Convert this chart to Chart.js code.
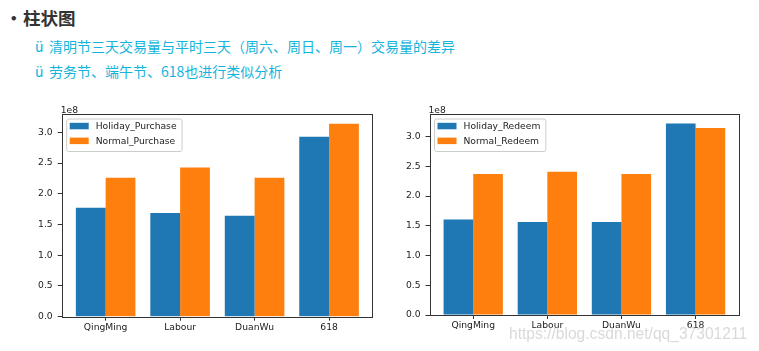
<!DOCTYPE html>
<html><head><meta charset="utf-8">
<script src="https://cdn.jsdelivr.net/npm/chart.js@4/dist/chart.umd.min.js"></script>
<style>
html,body{margin:0;padding:0;background:#fff;}
body{width:759px;height:351px;position:relative;overflow:hidden;font-family:"Noto Sans CJK SC",sans-serif;}
.t{position:absolute;white-space:nowrap;}
.title{font-size:17.5px;line-height:22px;font-weight:bold;color:#333;top:7px;}
.sub{font-size:14px;line-height:18px;color:#14b4dc;}
canvas{position:absolute;}
#wm{position:absolute;left:509px;top:324px;font-family:"Liberation Sans",Arial,sans-serif;font-size:15.6px;line-height:20px;color:rgba(185,185,185,0.55);white-space:nowrap;z-index:10;}
</style>
</head><body>
<span class="t title" style="left:5px;">•</span>
<span class="t title" style="left:23px;">柱状图</span>
<span class="t sub" style="left:35px;top:37px;">ü</span>
<span class="t sub" style="left:49px;top:37px;">清明节三天交易量与平时三天（周六、周日、周一）交易量的差异</span>
<span class="t sub" style="left:35px;top:62px;">ü</span>
<span class="t sub" style="left:49px;top:62px;">劳务节、端午节、618也进行类似分析</span>
<canvas id="c1" width="360" height="245" style="left:20px;top:100px;width:360px;height:245px;"></canvas>
<canvas id="c2" width="360" height="245" style="left:388px;top:100px;width:360px;height:245px;"></canvas>
<div id="wm">https://blog.csdn.net/qq_37301211</div>
<script>
// ---- data ----
const categories = ['QingMing', 'Labour', 'DuanWu', '618'];
const holidayPurchase = [177200000, 168600000, 164200000, 293000000];
const normalPurchase  = [226100000, 243000000, 226100000, 314200000];
const holidayRedeem   = [160700000, 156200000, 156200000, 321900000];
const normalRedeem    = [237100000, 241000000, 237100000, 314600000];
const purchaseLabels = ['Holiday_Purchase', 'Normal_Purchase'];
const redeemLabels   = ['Holiday_Redeem', 'Normal_Redeem'];
const yTicks = [0, 50000000, 100000000, 150000000, 200000000, 250000000, 300000000];

const BLUE = '#1f77b4', ORANGE = '#ff7f0e';
const FONT = '"DejaVu Sans", sans-serif';
const FS = 9.2;

const framePlugin = {
  id: 'mplFrame',
  afterDraw(chart) {
    const ctx = chart.ctx, a = chart.chartArea;
    ctx.save();
    ctx.strokeStyle = '#333';
    ctx.lineWidth = 1;
    ctx.strokeRect(Math.round(a.left) + 0.5, Math.round(a.top) + 0.5,
                   Math.round(a.right - a.left) - 1, Math.round(a.bottom - a.top));
    ctx.fillStyle = '#222';
    ctx.font = FS + 'px ' + FONT;
    ctx.textBaseline = 'alphabetic';
    ctx.textAlign = 'left';
    ctx.fillText('1e8', a.left - 1, a.top - 1.5);
    const ds = chart.data.datasets;
    let tw = 0;
    ds.forEach(d => { tw = Math.max(tw, ctx.measureText(d.label).width); });
    const fx = a.left + 4.5, fy = a.top + 4.5;
    const fw = 3.5 + 19 + 7 + tw + 5, fh = 32.5;
    ctx.beginPath();
    if (ctx.roundRect) ctx.roundRect(fx + 0.5, fy + 0.5, fw, fh, 2); else ctx.rect(fx + 0.5, fy + 0.5, fw, fh);
    ctx.fillStyle = 'rgba(255,255,255,0.8)';
    ctx.fill();
    ctx.strokeStyle = '#cccccc';
    ctx.stroke();
    ds.forEach((d, i) => {
      const cy = fy + 7.5 + i * 14.8;
      ctx.fillStyle = d.backgroundColor;
      ctx.fillRect(fx + 3.5, cy - 3.2, 19, 6.5);
      ctx.fillStyle = '#222';
      ctx.textBaseline = 'middle';
      ctx.fillText(d.label, fx + 29.5, cy + 0.5);
    });
    ctx.restore();
  }
};

function makeChart(id, labels, s1, s2, geo) {
  const maxV = 1.05 * Math.max(...s1, ...s2);
  return new Chart(document.getElementById(id), {
    type: 'bar',
    data: {
      datasets: [
        { label: labels[0], data: s1.map((v, i) => ({ x: i, y: v })), backgroundColor: BLUE, borderWidth: 0 },
        { label: labels[1], data: s2.map((v, i) => ({ x: i, y: v })), backgroundColor: ORANGE, borderWidth: 0 }
      ]
    },
    options: {
      responsive: false,
      animation: false,
      events: [],
      categoryPercentage: 0.8,
      barPercentage: 1.0,
      layout: { padding: { top: geo.padTop, right: geo.padRight, left: 0, bottom: 0 } },
      plugins: { legend: { display: false }, tooltip: { enabled: false } },
      scales: {
        x: {
          type: 'linear',
          min: -0.59, max: 3.59,
          offset: false,
          afterBuildTicks: s => { s.ticks = categories.map((c, i) => ({ value: i })); },
          afterFit: s => { s.height = geo.xHeight; },
          ticks: {
            autoSkip: false, maxRotation: 0, padding: 1.5,
            color: '#222', font: { family: FONT, size: FS },
            callback: v => categories[v]
          },
          grid: { offset: false, drawOnChartArea: false, drawTicks: true, tickLength: 4, tickColor: '#333', tickWidth: 1 },
          border: { display: false }
        },
        y: {
          min: 0, max: maxV,
          afterBuildTicks: s => { s.ticks = yTicks.map(v => ({ value: v })); },
          afterFit: s => { s.width = geo.yWidth; },
          ticks: {
            padding: 5, color: '#222', font: { family: FONT, size: FS },
            callback: v => (v / 1e8).toFixed(1)
          },
          grid: { offset: false, drawOnChartArea: false, drawTicks: true, tickLength: 4, tickColor: '#333', tickWidth: 1 },
          border: { display: false }
        }
      }
    },
    plugins: [framePlugin]
  });
}

makeChart('c1', purchaseLabels, holidayPurchase, normalPurchase,
  { yWidth: 41.7, padTop: 14, padRight: 7, xHeight: 28.3 });
makeChart('c2', redeemLabels, holidayRedeem, normalRedeem,
  { yWidth: 41.5, padTop: 14, padRight: 8.7, xHeight: 30 });
</script>
</body></html>
